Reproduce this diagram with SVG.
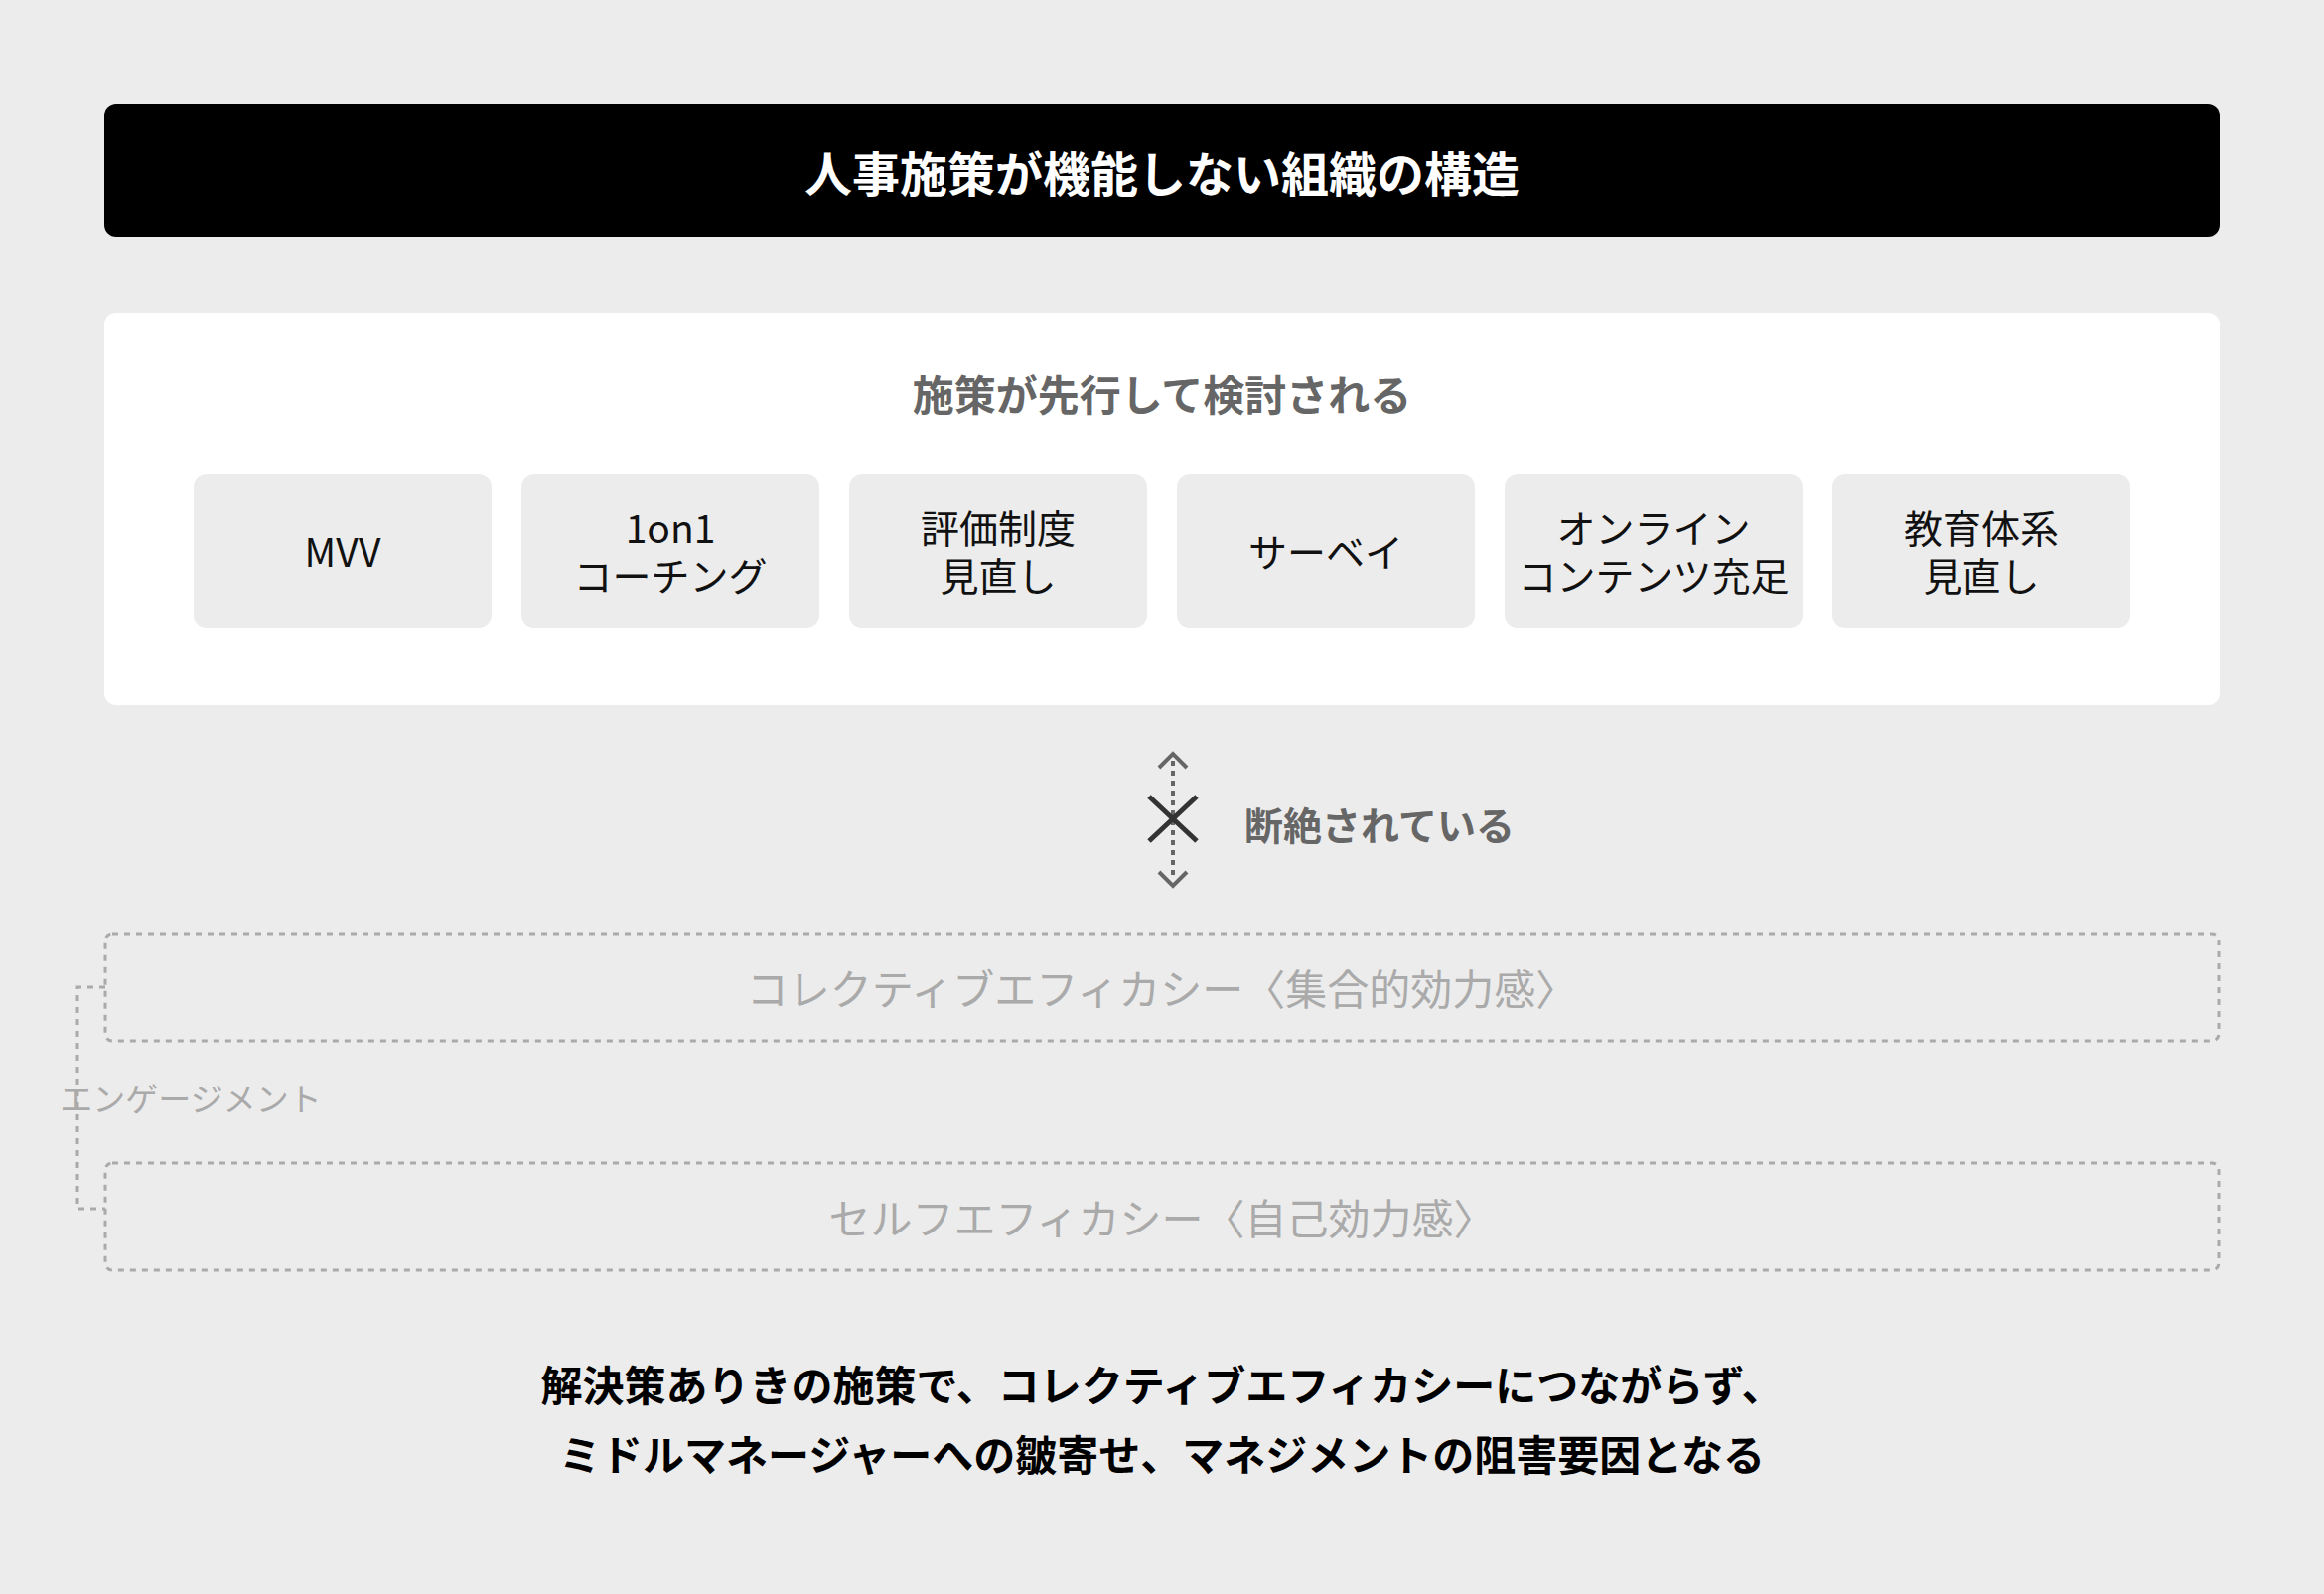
<svg xmlns="http://www.w3.org/2000/svg" width="2340" height="1605" viewBox="0 0 2340 1605">
<style>
text{font-family:"Noto Sans CJK JP","Noto Sans",sans-serif;text-anchor:middle;dominant-baseline:central}
.title{font-size:48px;font-weight:700;fill:#fff}
.sub{font-size:42px;font-weight:700;fill:#666}
.item rect{fill:#ececec}
.item text{font-size:39px;fill:#111}
.dbox{fill:none;stroke:#aaa;stroke-width:3;stroke-dasharray:6 6}
.dtext{font-size:42px;fill:#aaa}
.foot{font-size:42px;font-weight:700;fill:#000}
</style>
<rect width="2340" height="1605" fill="#ececec"/>
<g id="header">
<rect x="105" y="105" width="2130" height="134" rx="12" fill="#000"/>
<text class="title" x="1170" y="172">人事施策が機能しない組織の構造</text>
</g>
<g id="panel">
<rect x="105" y="315" width="2130" height="395" rx="12" fill="#fff"/>
<text class="sub" x="1170" y="395">施策が先行して検討される</text>
</g>
<g id="n1" class="item"><rect x="195" y="477" width="300" height="155" rx="13"/><text x="345" y="554">MVV</text></g>
<g id="n2" class="item"><rect x="525" y="477" width="300" height="155" rx="13"/><text x="675" y="530"><tspan x="675" y="530">1on1</tspan><tspan x="675" y="578">コーチング</tspan></text></g>
<g id="n3" class="item"><rect x="855" y="477" width="300" height="155" rx="13"/><text x="1005" y="530"><tspan x="1005" y="530">評価制度</tspan><tspan x="1005" y="578">見直し</tspan></text></g>
<g id="n4" class="item"><rect x="1185" y="477" width="300" height="155" rx="13"/><text x="1335" y="554">サーベイ</text></g>
<g id="n5" class="item"><rect x="1515" y="477" width="300" height="155" rx="13"/><text x="1665" y="530"><tspan x="1665" y="530">オンライン</tspan><tspan x="1665" y="578">コンテンツ充足</tspan></text></g>
<g id="n6" class="item"><rect x="1845" y="477" width="300" height="155" rx="13"/><text x="1995" y="530"><tspan x="1995" y="530">教育体系</tspan><tspan x="1995" y="578">見直し</tspan></text></g>
<g id="connectors">
<line x1="1181" y1="766" x2="1181" y2="886" stroke="#666" stroke-width="4" stroke-dasharray="5 5"/>
<polyline points="1167,773 1181,759 1195,773" fill="none" stroke="#666" stroke-width="4"/>
<polyline points="1167,878 1181,892 1195,878" fill="none" stroke="#666" stroke-width="4"/>
<line x1="1157" y1="802" x2="1205" y2="847" stroke="#333" stroke-width="5"/>
<line x1="1157" y1="847" x2="1205" y2="802" stroke="#333" stroke-width="5"/>
<polyline points="106,994 78,994 78,1217 106,1217" fill="none" stroke="#aaa" stroke-width="3" stroke-dasharray="6 6"/>
</g>
<g id="cut-label">
<text class="sub" x="1389" y="829" style="font-size:39px">断絶されている</text>
</g>
<g id="engagement-label">
<text x="192" y="1105" style="font-size:33px;fill:#aaa">エンゲージメント</text>
</g>
<g id="collective">
<rect class="dbox" x="106" y="940" width="2128" height="108" rx="7"/>
<text class="dtext" x="1170" y="993">コレクティブエフィカシー〈集合的効力感〉</text>
</g>
<g id="self">
<rect class="dbox" x="106" y="1171" width="2128" height="108" rx="7"/>
<text class="dtext" x="1170" y="1224">セルフエフィカシー〈自己効力感〉</text>
</g>
<g id="footer">
<text class="foot" x="1170" y="1392">解決策ありきの施策で、コレクティブエフィカシーにつながらず、</text>
<text class="foot" x="1170" y="1462">ミドルマネージャーへの皺寄せ、マネジメントの阻害要因となる</text>
</g>
</svg>
